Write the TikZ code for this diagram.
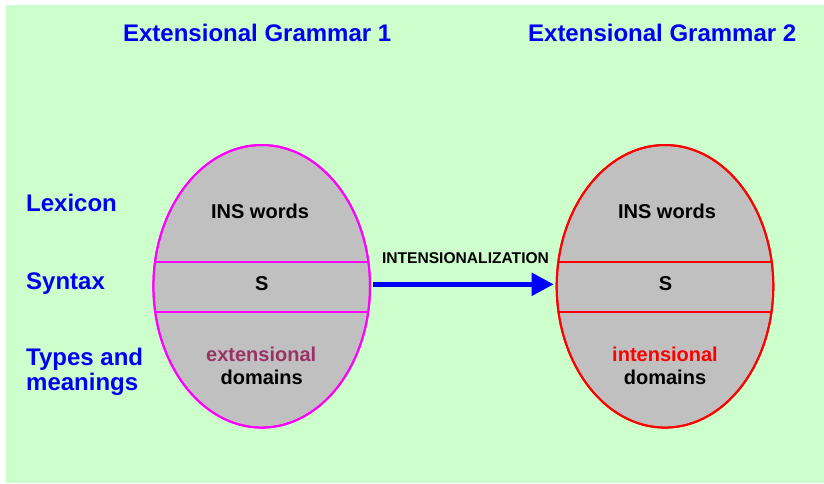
\documentclass[tikz,border=0pt]{standalone}
\usepackage{fontspec}
\setmainfont{Liberation Sans}
\usetikzlibrary{shapes.geometric,arrows.meta}
\definecolor{bggreen}{RGB}{204,255,204}
\definecolor{titleblue}{RGB}{0,0,245}
\definecolor{eggray}{RGB}{192,192,192}
\definecolor{plum}{RGB}{153,51,102}
\definecolor{pmagenta}{RGB}{255,0,255}
\definecolor{pred}{RGB}{255,0,0}
\tikzset{
  title/.style={anchor=base, inner sep=0, text=titleblue, font=\fontsize{24}{28}\selectfont\bfseries},
  rowlabel/.style={anchor=base west, inner sep=0, text=titleblue, align=left, font=\fontsize{24}{25}\selectfont\bfseries},
  inner/.style={anchor=base, inner sep=0, text=black, font=\fontsize{20}{24}\selectfont\bfseries},
  egg/.style={ellipse, minimum width=216.6pt, minimum height=282.6pt, inner sep=0, outer sep=0, fill=eggray, draw=#1, line width=2pt},
  band/.style={draw=#1, line width=2pt},
  bigarrow/.style={draw=blue, line width=5pt, -{Triangle[length=22pt,width=22pt]}}
}
\begin{document}
\begin{tikzpicture}[x=1pt,y=-1pt]
\useasboundingbox (0,0) rectangle (824,483);
\fill[bggreen] (6,5) rectangle (824,483);

% titles
\node[title] (t1) at (257.2,41.7) {Extensional Grammar 1};
\node[title] (t2) at (662.2,41.7) {Extensional Grammar 2};

% row labels
\node[rowlabel] (lex) at (26,211.7) {Lexicon};
\node[rowlabel] (syn) at (26,289) {Syntax};
\node[rowlabel, anchor=north west] (typ) at (26,348.3) {Types and\\meanings};

% eggs
\node[egg=pmagenta] (E1) at (261.7,286.3) {};
\node[egg=pred] (E2) at (665,286.3) {};

\begin{scope}
\clip (E1.center) ellipse [x radius=108.3pt, y radius=141.3pt];
\draw[band=pmagenta] ([yshift=24.6pt,xshift=-5pt]E1.west) -- ([yshift=24.6pt,xshift=5pt]E1.east);
\draw[band=pmagenta] ([yshift=-25.4pt,xshift=-5pt]E1.west) -- ([yshift=-25.4pt,xshift=5pt]E1.east);
\end{scope}
\begin{scope}
\clip (E2.center) ellipse [x radius=108.3pt, y radius=141.3pt];
\draw[band=pred] ([yshift=24.6pt,xshift=-5pt]E2.west) -- ([yshift=24.6pt,xshift=5pt]E2.east);
\draw[band=pred] ([yshift=-25.4pt,xshift=-5pt]E2.west) -- ([yshift=-25.4pt,xshift=5pt]E2.east);
\end{scope}
\draw[pmagenta, line width=2pt] (E1.center) ellipse [x radius=108.3pt, y radius=141.3pt];
\draw[pred, line width=2pt] (E2.center) ellipse [x radius=108.3pt, y radius=141.3pt];

% egg texts
\node[inner] (w1) at (260,218.3) {INS words};
\node[inner] (s1) at (261.7,290.7) {S};
\node[inner, text=plum] (x1) at (261.2,361.7) {extensional};
\node[inner] (d1) at (261.7,384.3) {domains};

\node[inner] (w2) at (667,218.3) {INS words};
\node[inner] (s2) at (665.5,290.7) {S};
\node[inner, text=pred] (x2) at (665,361.7) {intensional};
\node[inner] (d2) at (665,384.3) {domains};

% arrow
\draw[bigarrow] ([xshift=3pt,yshift=2pt]E1.east) -- ([xshift=-3pt,yshift=2pt]E2.west);
\node[anchor=base, inner sep=0, font=\fontsize{15.6}{18}\selectfont\bfseries] (lab) at (465.5,263.3) {INTENSIONALIZATION};
\end{tikzpicture}
\end{document}
